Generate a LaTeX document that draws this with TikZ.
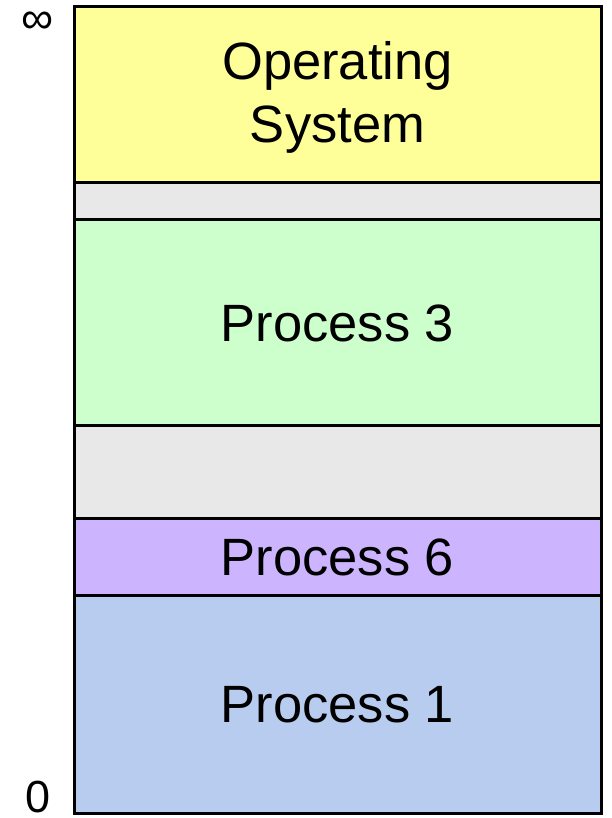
\documentclass[tikz,border=0pt]{standalone}
\usepackage{fontspec}
\setmainfont{Liberation Sans}
\usetikzlibrary{positioning}
\definecolor{memYellow}{HTML}{FFFF99}
\definecolor{memGray}{HTML}{E8E8E8}
\definecolor{memGreen}{HTML}{CCFFCC}
\definecolor{memPurple}{HTML}{CCB4FF}
\definecolor{memBlue}{HTML}{B8CCF0}

\begin{document}
\begin{tikzpicture}[
  x=1pt, y=1pt,
  node distance=0pt,
  block/.style={draw, line width=3pt, minimum width=527pt, inner sep=0pt, outer sep=0pt,
                align=center, font=\fontsize{52.5}{63}\selectfont},
  axislabel/.style={inner sep=0pt, font=\fontsize{45}{50}\selectfont},
]
  \useasboundingbox (0,0) rectangle (611,818);

  \node[block, fill=memYellow, minimum height=176pt, anchor=north west] (os) at (74,811) {};
  \node[font=\fontsize{52.5}{63}\selectfont, align=center, inner sep=0pt] (oslabel) at ([yshift=-2pt]os.center) {Operating\\System};
  \node[block, fill=memGray,   minimum height=37pt,  below=of os]    (free1) {};
  \node[block, fill=memGreen,  minimum height=206pt, below=of free1] (proc3) {Process 3};
  \node[block, fill=memGray,   minimum height=93pt,  below=of proc3] (free2) {};
  \node[block, fill=memPurple, minimum height=77pt,  below=of free2] (proc6) {Process 6};
  \node[block, fill=memBlue,   minimum height=218pt, below=of proc6] (proc1) {Process 1};

  \node[axislabel] (top) at (38,795) {∞};
  \node[axislabel] (bottom) at (38,21) {0};
\end{tikzpicture}
\end{document}
